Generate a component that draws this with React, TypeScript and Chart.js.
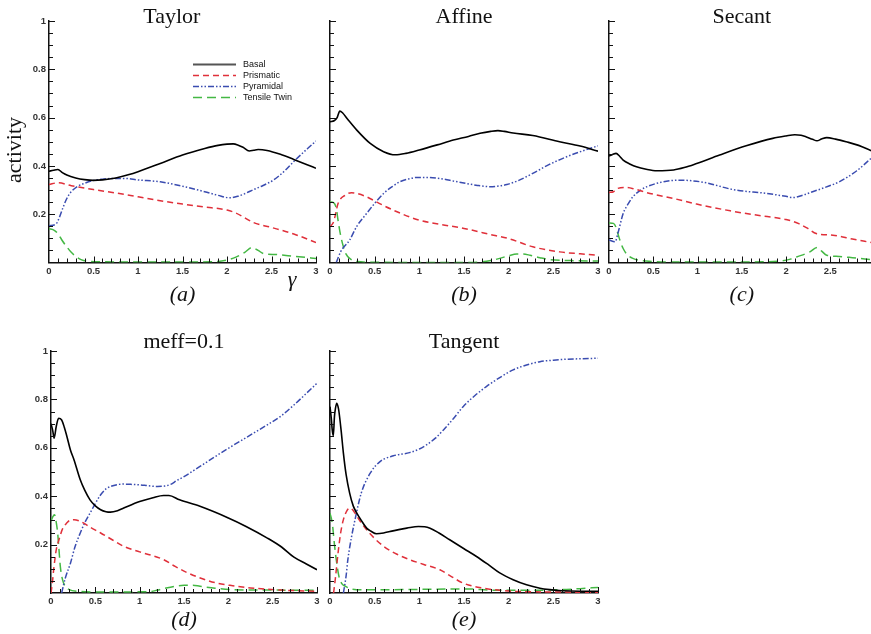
import React, { useEffect, useRef } from 'react';
import { Chart, registerables } from 'chart.js';

Chart.register(...registerables);

type Pt = [number, number];

// ---------- data: [gamma, activity] ----------
const taylorBasal: Pt[] = [[0,0.378],[0.05,0.382],[0.1,0.385],[0.15,0.372],[0.2,0.362],[0.3,0.35],[0.4,0.343],[0.5,0.34],[0.6,0.342],[0.75,0.35],[0.9,0.364],[1.0,0.376],[1.25,0.41],[1.5,0.445],[1.75,0.472],[1.9,0.485],[2.0,0.49],[2.07,0.491],[2.12,0.487],[2.18,0.477],[2.25,0.462],[2.3,0.465],[2.35,0.468],[2.45,0.464],[2.6,0.448],[2.75,0.427],[2.9,0.405],[3.0,0.39]];
const taylorPrismatic: Pt[] = [[0,0.323],[0.1,0.33],[0.25,0.318],[0.5,0.302],[0.75,0.288],[1.0,0.272],[1.25,0.256],[1.5,0.242],[1.75,0.23],[2.0,0.217],[2.1,0.205],[2.2,0.185],[2.3,0.165],[2.5,0.145],[2.75,0.118],[3.0,0.083]];
const taylorPyramidal: Pt[] = [[0,0.152],[0.08,0.16],[0.12,0.19],[0.16,0.23],[0.2,0.265],[0.25,0.293],[0.32,0.315],[0.4,0.328],[0.5,0.34],[0.6,0.345],[0.72,0.348],[0.85,0.348],[1.0,0.342],[1.25,0.334],[1.5,0.316],[1.75,0.293],[1.9,0.278],[2.03,0.268],[2.12,0.274],[2.2,0.285],[2.3,0.302],[2.4,0.318],[2.52,0.341],[2.65,0.38],[2.75,0.418],[2.9,0.47],[3.0,0.503]];
const taylorTwin: Pt[] = [[0,0.14],[0.05,0.135],[0.1,0.12],[0.15,0.09],[0.2,0.065],[0.25,0.042],[0.31,0.023],[0.36,0.012],[0.42,0.006],[0.6,0.003],[1.0,0.002],[1.5,0.002],[1.9,0.004],[2.0,0.01],[2.1,0.022],[2.2,0.042],[2.28,0.062],[2.35,0.05],[2.41,0.037],[2.55,0.033],[2.75,0.026],[3.0,0.017]];

const affineBasal: Pt[] = [[0,0.583],[0.05,0.588],[0.08,0.6],[0.11,0.627],[0.14,0.62],[0.2,0.592],[0.3,0.548],[0.45,0.493],[0.6,0.459],[0.73,0.446],[0.85,0.452],[1.0,0.466],[1.2,0.487],[1.38,0.507],[1.55,0.522],[1.68,0.535],[1.8,0.543],[1.88,0.546],[1.95,0.543],[2.05,0.536],[2.27,0.526],[2.57,0.5],[2.8,0.482],[3.0,0.461]];
const affinePrismatic: Pt[] = [[0,0.148],[0.04,0.168],[0.09,0.244],[0.17,0.279],[0.24,0.289],[0.3,0.286],[0.41,0.272],[0.55,0.245],[0.75,0.21],[1.0,0.175],[1.25,0.157],[1.5,0.141],[1.83,0.113],[2.0,0.099],[2.27,0.065],[2.57,0.044],[2.8,0.036],[3.0,0.03]];
const affinePyramidal: Pt[] = [[0.07,0],[0.12,0.045],[0.22,0.093],[0.3,0.15],[0.41,0.203],[0.5,0.245],[0.6,0.286],[0.7,0.315],[0.78,0.334],[0.88,0.346],[0.97,0.352],[1.1,0.352],[1.23,0.348],[1.4,0.336],[1.53,0.327],[1.65,0.319],[1.79,0.314],[1.9,0.317],[1.98,0.323],[2.1,0.338],[2.27,0.369],[2.45,0.405],[2.65,0.438],[2.85,0.465],[3.0,0.483]];
const affineTwin: Pt[] = [[0,0.251],[0.04,0.248],[0.07,0.225],[0.09,0.175],[0.12,0.11],[0.15,0.065],[0.18,0.035],[0.22,0.017],[0.3,0.004],[0.5,0.001],[1.0,0],[1.5,0],[1.68,0.002],[1.8,0.008],[1.9,0.017],[2.0,0.028],[2.09,0.035],[2.16,0.035],[2.24,0.03],[2.35,0.02],[2.46,0.012],[2.7,0.008],[3.0,0.006]];

const secantBasal: Pt[] = [[0,0.441],[0.04,0.447],[0.08,0.452],[0.12,0.44],[0.16,0.424],[0.24,0.407],[0.31,0.396],[0.42,0.386],[0.54,0.38],[0.73,0.383],[0.85,0.393],[0.99,0.41],[1.25,0.445],[1.55,0.483],[1.85,0.514],[2.0,0.524],[2.1,0.529],[2.17,0.527],[2.23,0.52],[2.3,0.51],[2.35,0.504],[2.4,0.511],[2.46,0.517],[2.56,0.511],[2.68,0.5],[2.82,0.485],[2.96,0.463]];
const secantPrismatic: Pt[] = [[0,0.29],[0.05,0.293],[0.1,0.307],[0.2,0.311],[0.3,0.303],[0.43,0.289],[0.73,0.265],[0.99,0.242],[1.37,0.214],[1.74,0.192],[2.0,0.178],[2.15,0.16],[2.25,0.14],[2.34,0.12],[2.53,0.113],[2.75,0.097],[2.96,0.083]];
const secantPyramidal: Pt[] = [[0,0.093],[0.07,0.086],[0.1,0.12],[0.16,0.203],[0.22,0.245],[0.27,0.272],[0.35,0.298],[0.43,0.314],[0.61,0.334],[0.8,0.341],[0.95,0.338],[1.1,0.33],[1.4,0.302],[1.78,0.286],[2.0,0.274],[2.08,0.269],[2.2,0.28],[2.3,0.293],[2.45,0.312],[2.6,0.334],[2.8,0.38],[2.96,0.431]];
const secantTwin: Pt[] = [[0,0.164],[0.05,0.162],[0.08,0.145],[0.1,0.12],[0.13,0.085],[0.16,0.058],[0.2,0.035],[0.27,0.017],[0.42,0.006],[0.8,0.002],[1.5,0.002],[1.93,0.006],[2.05,0.014],[2.12,0.023],[2.27,0.044],[2.35,0.062],[2.4,0.048],[2.46,0.03],[2.6,0.025],[2.75,0.02],[2.96,0.012]];

const meffBasal: Pt[] = [[0,0.7],[0.02,0.67],[0.035,0.64],[0.06,0.69],[0.086,0.722],[0.12,0.715],[0.15,0.685],[0.18,0.646],[0.22,0.59],[0.26,0.55],[0.33,0.468],[0.38,0.425],[0.44,0.385],[0.5,0.36],[0.56,0.344],[0.62,0.336],[0.67,0.334],[0.75,0.34],[0.82,0.351],[1.0,0.378],[1.15,0.394],[1.27,0.403],[1.33,0.403],[1.45,0.385],[1.68,0.358],[2.0,0.31],[2.2,0.275],[2.44,0.227],[2.6,0.19],[2.74,0.148],[2.88,0.12],[3.0,0.096]];
const meffPrismatic: Pt[] = [[0,0],[0.015,0.04],[0.03,0.096],[0.06,0.18],[0.09,0.22],[0.13,0.265],[0.18,0.29],[0.22,0.302],[0.26,0.303],[0.33,0.296],[0.45,0.27],[0.56,0.248],[0.7,0.218],[0.82,0.193],[1.0,0.17],[1.27,0.138],[1.4,0.11],[1.53,0.085],[1.7,0.06],[1.87,0.041],[2.05,0.03],[2.25,0.021],[2.6,0.012],[3.0,0.007]];
const meffPyramidal: Pt[] = [[0.12,0],[0.16,0.06],[0.22,0.124],[0.27,0.19],[0.33,0.248],[0.38,0.29],[0.44,0.33],[0.5,0.37],[0.56,0.406],[0.62,0.43],[0.67,0.44],[0.75,0.448],[0.82,0.45],[0.9,0.449],[1.0,0.447],[1.1,0.443],[1.2,0.44],[1.28,0.442],[1.35,0.449],[1.42,0.465],[1.5,0.481],[1.68,0.523],[2.0,0.598],[2.2,0.642],[2.44,0.695],[2.6,0.733],[2.74,0.777],[2.88,0.825],[3.0,0.867]];
const meffTwin: Pt[] = [[0,0.296],[0.02,0.315],[0.04,0.323],[0.06,0.29],[0.075,0.248],[0.09,0.18],[0.105,0.11],[0.13,0.055],[0.16,0.028],[0.2,0.015],[0.3,0.007],[0.6,0.004],[1.12,0.006],[1.2,0.012],[1.3,0.021],[1.4,0.028],[1.5,0.032],[1.6,0.032],[1.68,0.028],[1.85,0.02],[2.06,0.014],[2.5,0.012],[3.0,0.011]];

const tangentBasal: Pt[] = [[0,0.77],[0.015,0.72],[0.025,0.674],[0.037,0.65],[0.05,0.73],[0.06,0.76],[0.075,0.784],[0.09,0.77],[0.1,0.75],[0.125,0.67],[0.15,0.578],[0.18,0.49],[0.22,0.413],[0.26,0.36],[0.3,0.33],[0.35,0.3],[0.41,0.268],[0.46,0.255],[0.52,0.245],[0.6,0.248],[0.67,0.254],[0.77,0.262],[0.86,0.268],[0.99,0.275],[1.06,0.274],[1.12,0.268],[1.22,0.248],[1.34,0.22],[1.5,0.183],[1.64,0.151],[1.78,0.115],[1.9,0.083],[2.05,0.055],[2.2,0.034],[2.35,0.02],[2.46,0.014],[2.6,0.009],[2.8,0.007],[3.0,0.007]];
const tangentPrismatic: Pt[] = [[0.04,0],[0.06,0.06],[0.09,0.165],[0.12,0.25],[0.15,0.303],[0.19,0.34],[0.22,0.351],[0.25,0.345],[0.28,0.33],[0.34,0.295],[0.41,0.261],[0.5,0.225],[0.6,0.193],[0.75,0.16],[0.89,0.138],[1.05,0.118],[1.23,0.096],[1.35,0.07],[1.49,0.041],[1.7,0.021],[2.0,0.008],[2.3,0.005],[3.0,0.003]];
const tangentPyramidal: Pt[] = [[0.15,0],[0.18,0.07],[0.2,0.138],[0.24,0.23],[0.28,0.303],[0.35,0.413],[0.45,0.495],[0.56,0.543],[0.71,0.567],[0.89,0.58],[1.0,0.595],[1.08,0.612],[1.18,0.64],[1.27,0.674],[1.38,0.72],[1.49,0.77],[1.62,0.815],[1.75,0.853],[1.9,0.89],[2.05,0.922],[2.2,0.942],[2.35,0.956],[2.5,0.962],[2.65,0.966],[2.8,0.968],[3.0,0.97]];
const tangentTwin: Pt[] = [[0,0.33],[0.02,0.3],[0.03,0.275],[0.05,0.2],[0.07,0.138],[0.1,0.069],[0.13,0.04],[0.17,0.028],[0.25,0.016],[0.4,0.013],[1.0,0.015],[1.53,0.017],[1.8,0.012],[2.2,0.011],[2.6,0.014],[2.8,0.018],[3.0,0.023]];

const seriesNames = ['Basal', 'Prismatic', 'Pyramidal', 'Tensile Twin'];
const seriesColors = ['#000000', '#e0303a', '#3a4cb0', '#44b844'];
const seriesDash: number[][] = [[], [6, 4], [6, 2, 1.5, 2, 1.5, 2], [9, 5]];
const seriesWidth = [1.6, 1.5, 1.5, 1.5];

const xTickLabels = ['0', '0.5', '1', '1.5', '2', '2.5', '3'];
const yTickLabels = ['0.2', '0.4', '0.6', '0.8', '1'];

const SERIF = '"Liberation Serif", "Times New Roman", serif';
const SANS = '"Liberation Sans", Arial, sans-serif';

interface Rect { left: number; top: number; width: number; height: number }
interface Area { left: number; top: number; right: number; bottom: number }
interface PanelSpec {
  title: string; titleX: number; titleDy: number;
  sub: string; subDy: number;
  canvas: Rect; area: Area; xMax: number;
  showYLabels: boolean; legend: boolean; gamma: boolean; yTitle: boolean;
  series: Pt[][];
}

const decor = {
  id: 'decor',
  afterDraw(chart: any, _args: any, opts: any) {
    const { ctx, chartArea: a, scales } = chart;
    const x = scales.x, y = scales.y;
    ctx.save();
    // inward tick marks (major + minor)
    ctx.strokeStyle = '#111';
    ctx.lineWidth = 1;
    ctx.setLineDash([]);
    for (let i = 1; i <= 20; i++) {
      const py = Math.round(y.getPixelForValue(i * 0.05)) + 0.5;
      const len = i % 4 === 0 ? 6 : 4;
      ctx.beginPath(); ctx.moveTo(a.left, py); ctx.lineTo(a.left + len, py); ctx.stroke();
    }
    for (let i = 1; i <= 30; i++) {
      const v = i * 0.1;
      if (v > x.max + 1e-9) break;
      const px = Math.round(x.getPixelForValue(v)) + 0.5;
      const len = i % 5 === 0 ? 6 : 4;
      ctx.beginPath(); ctx.moveTo(px, a.bottom); ctx.lineTo(px, a.bottom - len); ctx.stroke();
    }
    // title
    ctx.fillStyle = '#111';
    ctx.textAlign = 'center';
    ctx.textBaseline = 'alphabetic';
    ctx.font = '22px ' + SERIF;
    ctx.fillText(opts.title, x.getPixelForValue(opts.titleX), a.top + opts.titleDy);
    // sub label
    ctx.font = 'italic 22px ' + SERIF;
    ctx.textBaseline = 'middle';
    ctx.fillText(opts.sub, x.getPixelForValue(1.5), a.bottom + opts.subDy);
    if (opts.gamma) {
      ctx.font = 'italic 22px ' + SERIF;
      ctx.fillText('γ', x.getPixelForValue(2.73), a.bottom + 18);
    }
    if (opts.yTitle) {
      ctx.save();
      ctx.translate(a.left - 34, a.top + 129);
      ctx.rotate(-Math.PI / 2);
      ctx.font = '22px ' + SERIF;
      ctx.textBaseline = 'middle';
      ctx.fillText('activity', 0, 0);
      ctx.restore();
    }
    if (opts.legend) {
      ctx.font = '9px ' + SANS;
      ctx.textAlign = 'left';
      ctx.textBaseline = 'middle';
      seriesNames.forEach((name, i) => {
        const ly = Math.round(a.top + 43 + i * 11) + 0.5;
        ctx.strokeStyle = i === 0 ? '#555' : seriesColors[i];
        ctx.lineWidth = i === 0 ? 2 : 1.3;
        ctx.setLineDash(seriesDash[i]);
        ctx.beginPath(); ctx.moveTo(a.left + 144, ly); ctx.lineTo(a.left + 187, ly); ctx.stroke();
        ctx.setLineDash([]);
        ctx.fillStyle = '#111';
        ctx.fillText(name, a.left + 194, ly);
      });
    }
    ctx.restore();
  },
};

const panels: PanelSpec[] = [
  { title: 'Taylor', titleX: 1.38, titleDy: 2, sub: '(a)', subDy: 33,
    canvas: { left: 0, top: 0, width: 325, height: 312 }, area: { left: 49, top: 21, right: 316, bottom: 262.5 },
    xMax: 3, showYLabels: true, legend: true, gamma: true, yTitle: true,
    series: [taylorBasal, taylorPrismatic, taylorPyramidal, taylorTwin] },
  { title: 'Affine', titleX: 1.5, titleDy: 2, sub: '(b)', subDy: 33,
    canvas: { left: 318, top: 0, width: 287, height: 312 }, area: { left: 330, top: 21, right: 598, bottom: 262.5 },
    xMax: 3, showYLabels: false, legend: false, gamma: false, yTitle: false,
    series: [affineBasal, affinePrismatic, affinePyramidal, affineTwin] },
  { title: 'Secant', titleX: 1.5, titleDy: 2, sub: '(c)', subDy: 33,
    canvas: { left: 600, top: 0, width: 274, height: 312 }, area: { left: 609, top: 21, right: 871, bottom: 262.5 },
    xMax: 2.96, showYLabels: false, legend: false, gamma: false, yTitle: false,
    series: [secantBasal, secantPrismatic, secantPyramidal, secantTwin] },
  { title: 'meff=0.1', titleX: 1.5, titleDy: -3, sub: '(d)', subDy: 27,
    canvas: { left: 0, top: 318, width: 326, height: 316 }, area: { left: 51, top: 351, right: 317, bottom: 593 },
    xMax: 3, showYLabels: true, legend: false, gamma: false, yTitle: false,
    series: [meffBasal, meffPrismatic, meffPyramidal, meffTwin] },
  { title: 'Tangent', titleX: 1.5, titleDy: -3, sub: '(e)', subDy: 27,
    canvas: { left: 318, top: 318, width: 287, height: 316 }, area: { left: 330, top: 351, right: 598, bottom: 593 },
    xMax: 3, showYLabels: false, legend: false, gamma: false, yTitle: false,
    series: [tangentBasal, tangentPrismatic, tangentPyramidal, tangentTwin] },
];

function Panel({ spec }: { spec: PanelSpec }) {
  const ref = useRef<HTMLCanvasElement | null>(null);
  useEffect(() => {
    if (!ref.current) return;
    const c = spec.canvas, a = spec.area;
    const tickFont = { family: SANS, size: 9.5, weight: 'bold' as const };
    const chart = new Chart(ref.current, {
      type: 'line',
      data: {
        datasets: spec.series.map((pts, i) => ({
          label: seriesNames[i],
          data: pts.map(([gx, gy]) => ({ x: gx, y: gy })),
          borderColor: seriesColors[i],
          borderWidth: seriesWidth[i],
          borderDash: seriesDash[i],
          pointRadius: 0,
          fill: false,
          cubicInterpolationMode: 'monotone' as const,
        })),
      },
      options: {
        animation: false,
        responsive: false,
        maintainAspectRatio: false,
        layout: { padding: { top: a.top - c.top, right: c.left + c.width - a.right, left: 0, bottom: 0 } },
        plugins: {
          legend: { display: false },
          tooltip: { enabled: false },
          decor: { title: spec.title, titleX: spec.titleX, titleDy: spec.titleDy, sub: spec.sub, subDy: spec.subDy, legend: spec.legend, gamma: spec.gamma, yTitle: spec.yTitle },
        } as any,
        scales: {
          x: {
            type: 'linear', min: 0, max: spec.xMax,
            grid: { display: false, drawTicks: false },
            border: { display: true, color: '#111', width: 1.5 },
            ticks: {
              stepSize: 0.5, includeBounds: false, padding: 3, maxRotation: 0, autoSkip: false, color: '#333', font: tickFont,
              callback: (v: any) => xTickLabels[Math.round(Number(v) / 0.5)] ?? '',
            },
            afterFit: (s: any) => { s.height = c.top + c.height - a.bottom; },
          },
          y: {
            type: 'linear', min: 0, max: 1,
            grid: { display: false, drawTicks: false },
            border: { display: true, color: '#111', width: 1.5 },
            ticks: {
              display: spec.showYLabels, stepSize: 0.2, padding: 3, color: '#333', font: tickFont,
              callback: (v: any) => { const i = Math.round(Number(v) / 0.2); return i >= 1 ? yTickLabels[i - 1] : ''; },
            },
            afterFit: (s: any) => { s.width = a.left - c.left; },
          },
        } as any,
      },
      plugins: [decor as any],
    });
    return () => chart.destroy();
  }, [spec]);
  const c = spec.canvas;
  return (
    <canvas ref={ref} width={c.width} height={c.height}
      style={{ position: 'absolute', left: c.left, top: c.top, width: c.width, height: c.height }} />
  );
}

export default function App() {
  return (
    <div style={{ position: 'fixed', left: 0, top: 0, width: 871, height: 634, overflow: 'hidden', background: '#fff' }}>
      {panels.map((p) => <Panel key={p.title} spec={p} />)}
    </div>
  );
}
